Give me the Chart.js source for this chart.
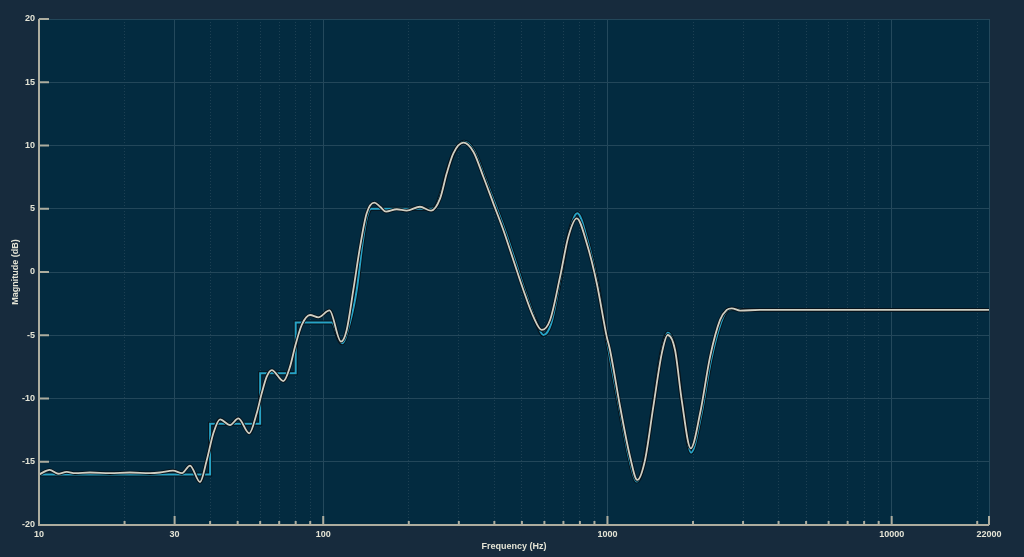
<!DOCTYPE html>
<html>
<head>
<meta charset="utf-8">
<script src="https://cdn.jsdelivr.net/npm/chart.js@4"></script>
<style>
html,body{margin:0;padding:0;background:#172b3d;}
canvas{display:block;}
</style>
</head>
<body>
<canvas id="c" width="1024" height="557"></canvas>
<script>
// Target (stepped part)
const stepFreq = [10, 40, 60, 80, 108];
const stepDb   = [-16, -12, -8, -4, -4];

// Target (smooth part)
const targetFreq = [108, 116.4, 124.2, 131.2, 138.0, 142.5, 147.3, 180, 220, 240.8, 249.5, 261.9, 274.9, 290.9, 313.0, 339.4, 369.5, 402.3, 436.2, 473.0, 513.1, 556.4, 595.1, 633.4, 683.9, 729.8, 783.6, 851.1, 922.9, 998.4, 1108, 1196, 1268, 1351, 1447, 1550, 1630, 1729, 1830, 1969, 2135, 2315, 2510, 2657, 2767, 2976, 5000, 22000];
const targetDb   = [-4, -5.64, -4.0, -1.42, 2.5, 4.3, 5.0, 5.0, 5.0, 5.0, 5.2, 6.5, 8.2, 9.6, 10.3, 9.6, 7.55, 5.4, 3.3, 0.95, -1.5, -3.7, -4.98, -4.1, -0.5, 2.9, 4.64, 2.5, -0.9, -5.6, -11.1, -14.9, -16.57, -14.9, -10.65, -6.3, -4.8, -6.1, -10.2, -14.28, -11.4, -7.0, -4.0, -3.0, -2.92, -3.0, -3.0, -3.0];

// Realised response
const responseFreq = [10, 10.9, 11.67, 12.52, 13.39, 15.12, 17.78, 20.9, 24.58, 26.66, 29.6, 31.86, 33.99, 36.86, 38.9, 41.06, 43.35, 47.0, 50.27, 54.95, 58.34, 60.76, 63.27, 65.89, 72.4, 76.42, 79.58, 84.02, 89.85, 96.1, 105.2, 115.5, 120.9, 127.6, 134.8, 142.2, 151.3, 158.5, 166.3, 181.4, 196.7, 219.0, 239.5, 257.6, 272.0, 287.0, 311.2, 337.5, 365.9, 396.7, 430.2, 466.5, 506.0, 548.7, 587.3, 628.3, 681.4, 728.5, 779.8, 845.5, 917.1, 994.3, 1021, 1108, 1201, 1274, 1356, 1450, 1553, 1630, 1729, 1825, 1964, 2118, 2297, 2490, 2629, 2738, 2929, 3443, 22000];
const responseDb   = [-16.0, -15.65, -15.95, -15.8, -15.9, -15.85, -15.9, -15.85, -15.9, -15.85, -15.7, -15.9, -15.3, -16.6, -14.9, -12.75, -11.65, -12.1, -11.57, -12.75, -11.17, -9.59, -8.27, -7.75, -8.62, -7.48, -5.9, -4.19, -3.4, -3.58, -3.03, -5.5, -4.6, -1.42, 2.0, 4.64, 5.48, 5.16, 4.77, 4.96, 4.85, 5.16, 4.85, 5.8, 7.8, 9.38, 10.22, 9.51, 7.53, 5.43, 3.32, 0.95, -1.42, -3.53, -4.58, -3.79, -0.37, 2.79, 4.24, 2.27, -0.89, -5.11, -6.17, -10.65, -14.6, -16.44, -14.86, -10.65, -6.43, -4.98, -6.17, -10.12, -13.94, -11.17, -6.69, -3.79, -3.0, -2.87, -3.05, -3.0, -3.0];

// Axis ticks
const xTickValues = [10,20,30,40,50,60,70,80,90,100,200,300,400,500,600,700,800,900,1000,2000,3000,4000,5000,6000,7000,8000,9000,10000,20000,22000];
const xTickLabels = [10, 30, 100, 1000, 10000, 22000];
const yMin = -20, yMax = 20, yStep = 5;

const toXY = (xs, ys) => xs.map((x, i) => ({x: x, y: ys[i]}));

const PLOT_BG = '#032b40';
const PAGE_BG = '#172b3d';
const AXIS = '#adad9f';
const TEXT = '#e4e4d6';
const OUTLINE = '#07131b';
const CYAN = '#27a3c6';
const WHITE = '#d0cfc3';
const FONT = {family: 'Liberation Sans, Arial, sans-serif', size: 9, weight: 'bold'};

const bgPlugin = {
  id: 'bg',
  beforeDraw(chart) {
    const {ctx, chartArea: a} = chart;
    ctx.save();
    ctx.fillStyle = PAGE_BG;
    ctx.fillRect(0, 0, chart.width, chart.height);
    ctx.fillStyle = PLOT_BG;
    ctx.fillRect(a.left, a.top, a.right - a.left, a.bottom - a.top);
    ctx.restore();
  },
  afterDraw(chart) {
    const {ctx, chartArea: a, scales} = chart;
    const xs = scales.x, ys = scales.y;
    ctx.save();
    ctx.strokeStyle = AXIS;
    ctx.lineWidth = 2;
    ctx.beginPath();
    ctx.moveTo(a.left, a.top);
    ctx.lineTo(a.left, a.bottom);
    ctx.lineTo(a.right, a.bottom);
    ctx.stroke();
    ctx.beginPath();
    for (let v = yMin; v <= yMax; v += yStep) {
      const py = ys.getPixelForValue(v);
      ctx.moveTo(a.left, py);
      ctx.lineTo(a.left + 10, py);
    }
    xTickValues.forEach(v => {
      const px = xs.getPixelForValue(v);
      const len = xTickLabels.includes(v) ? 9 : 4;
      ctx.moveTo(px, a.bottom);
      ctx.lineTo(px, a.bottom - len);
    });
    ctx.stroke();
    ctx.restore();
  }
};

const lineBase = {pointRadius: 0, pointHoverRadius: 0, fill: false};

new Chart(document.getElementById('c'), {
  type: 'line',
  data: {
    datasets: [
      Object.assign({}, lineBase, {label: 'response', data: toXY(responseFreq, responseDb), borderColor: WHITE, borderWidth: 1.8, cubicInterpolationMode: 'monotone', order: 0}),
      Object.assign({}, lineBase, {label: 'response-outline', data: toXY(responseFreq, responseDb), borderColor: OUTLINE, borderWidth: 3.6, cubicInterpolationMode: 'monotone', order: 1}),
      Object.assign({}, lineBase, {label: 'target', data: toXY(targetFreq, targetDb), borderColor: CYAN, borderWidth: 2, cubicInterpolationMode: 'monotone', order: 2}),
      Object.assign({}, lineBase, {label: 'target-step', data: toXY(stepFreq, stepDb), borderColor: CYAN, borderWidth: 2, stepped: true, order: 2}),
      Object.assign({}, lineBase, {label: 'target-outline', data: toXY(targetFreq, targetDb), borderColor: OUTLINE, borderWidth: 4, cubicInterpolationMode: 'monotone', order: 3}),
      Object.assign({}, lineBase, {label: 'target-step-outline', data: toXY(stepFreq, stepDb), borderColor: OUTLINE, borderWidth: 4, stepped: true, order: 3})
    ]
  },
  options: {
    responsive: false,
    animation: false,
    events: [],
    layout: {padding: {top: 19, right: 35, bottom: 0, left: 0}},
    plugins: {legend: {display: false}, tooltip: {enabled: false}},
    scales: {
      x: {
        type: 'logarithmic',
        min: 10, max: 22000,
        afterBuildTicks(scale) { scale.ticks = xTickValues.map(v => ({value: v})); },
        afterFit(scale) { scale.height = 32; },
        ticks: {
          autoSkip: false, maxRotation: 0, minRotation: 0, padding: 4,
          color: TEXT, font: FONT,
          callback: v => xTickLabels.includes(v) ? String(v) : ''
        },
        grid: {
          drawTicks: false,
          color: c => (c.tick && xTickLabels.includes(c.tick.value)) ? '#24495c' : '#1d4053',
          lineWidth: 1
        },
        border: {display: false, dash: c => (c.tick && !xTickLabels.includes(c.tick.value)) ? [1, 2] : []},
        title: {display: true, text: 'Frequency (Hz)', color: TEXT, font: FONT, padding: {top: 0, bottom: 5}}
      },
      y: {
        type: 'linear',
        min: yMin, max: yMax,
        afterFit(scale) { scale.width = 39; },
        ticks: {stepSize: yStep, padding: 4, color: TEXT, font: FONT},
        grid: {drawTicks: false, color: '#23475a', lineWidth: 1},
        border: {display: false},
        title: {display: true, text: 'Magnitude (dB)', color: TEXT, font: FONT, padding: {top: 10, bottom: 0}}
      }
    }
  },
  plugins: [bgPlugin]
});
</script>
</body>
</html>
